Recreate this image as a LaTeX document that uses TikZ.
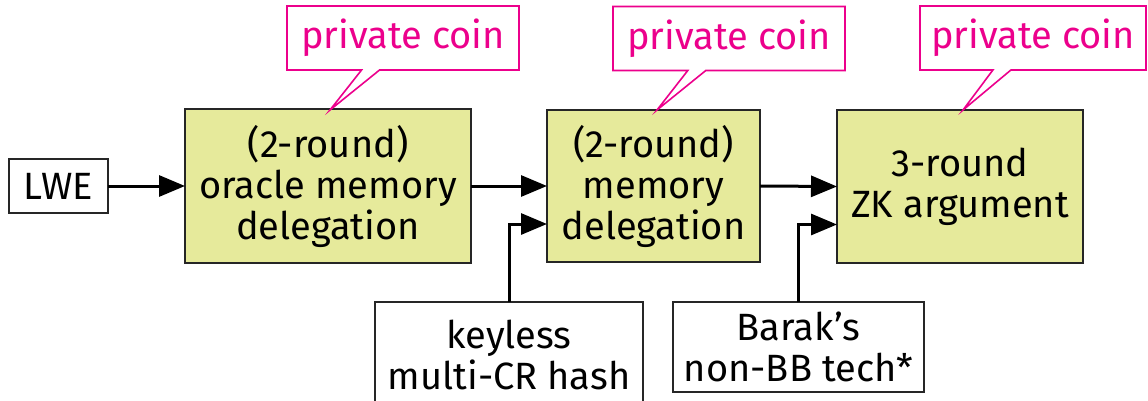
\documentclass[tikz,border=0pt]{standalone}
\usepackage{fontspec}
\setmainfont{Fira Sans}
\usetikzlibrary{arrows.meta,shapes.callouts}
\definecolor{boxfill}{RGB}{230,234,155}
\definecolor{coinpink}{RGB}{236,0,140}
\begin{document}
\begin{tikzpicture}[x=1pt,y=-1pt,
  every node/.style={inner sep=0pt,outer sep=0pt,align=center,font=\fontsize{38}{41}\selectfont},
  plainbox/.style={draw=black!85,line width=2pt,fill=white},
  stagebox/.style={draw=black!85,line width=2pt,fill=boxfill},
  coin/.style={rectangle callout,draw=coinpink,line width=1.6pt,fill=white,text=coinpink,
    callout pointer width=18pt,minimum height=64pt},
  link/.style={line width=3pt,-{Triangle[length=26pt,width=21pt]}}]
\useasboundingbox (0,0) rectangle (1148,401);
\clip (0,0) rectangle (1148,401);
% main nodes
\node[plainbox,minimum width=99pt,minimum height=54pt] (lwe) at (58.5,186) {LWE};
\node[stagebox,minimum width=286pt,minimum height=154pt] (b1) at (328,186) {(2-round)\\oracle memory\\delegation};
\node[stagebox,minimum width=213pt,minimum height=152pt] (b2) at (653.5,186) {(2-round)\\memory\\delegation};
\node[stagebox,minimum width=246pt,minimum height=153pt] (b3) at (960,186.5) {3-round\\ZK argument};
\node[plainbox,minimum width=268pt,minimum height=106pt] (hash) at (509,355) {keyless\\multi-CR hash};
\node[plainbox,minimum width=251pt,minimum height=90pt] (barak) at (798.5,347) {Barak’s\\non-BB tech*};
% callouts
\coordinate (t1) at (330,110);
\coordinate (t2) at (657,110);
\coordinate (t3) at (963,110);
\node[coin,minimum width=232pt,callout absolute pointer={(t1)}] (c1) at (403,38) {private coin};
\node[coin,minimum width=232pt,callout absolute pointer={(t2)}] (c2) at (729,38.5) {private coin};
\node[coin,minimum width=226pt,callout absolute pointer={(t3)}] (c3) at (1033,38) {private coin};
% connectors
\draw[link] (lwe.east) -- (b1.west);
\draw[link] (b1.east) -- (b2.west);
\draw[link] (b2.east) -- (b3.west);
\draw[link] (hash.north) |- ([yshift=-38pt]b2.west);
\draw[link] (barak.north) |- ([yshift=-38pt]b3.west);
\end{tikzpicture}
\end{document}
